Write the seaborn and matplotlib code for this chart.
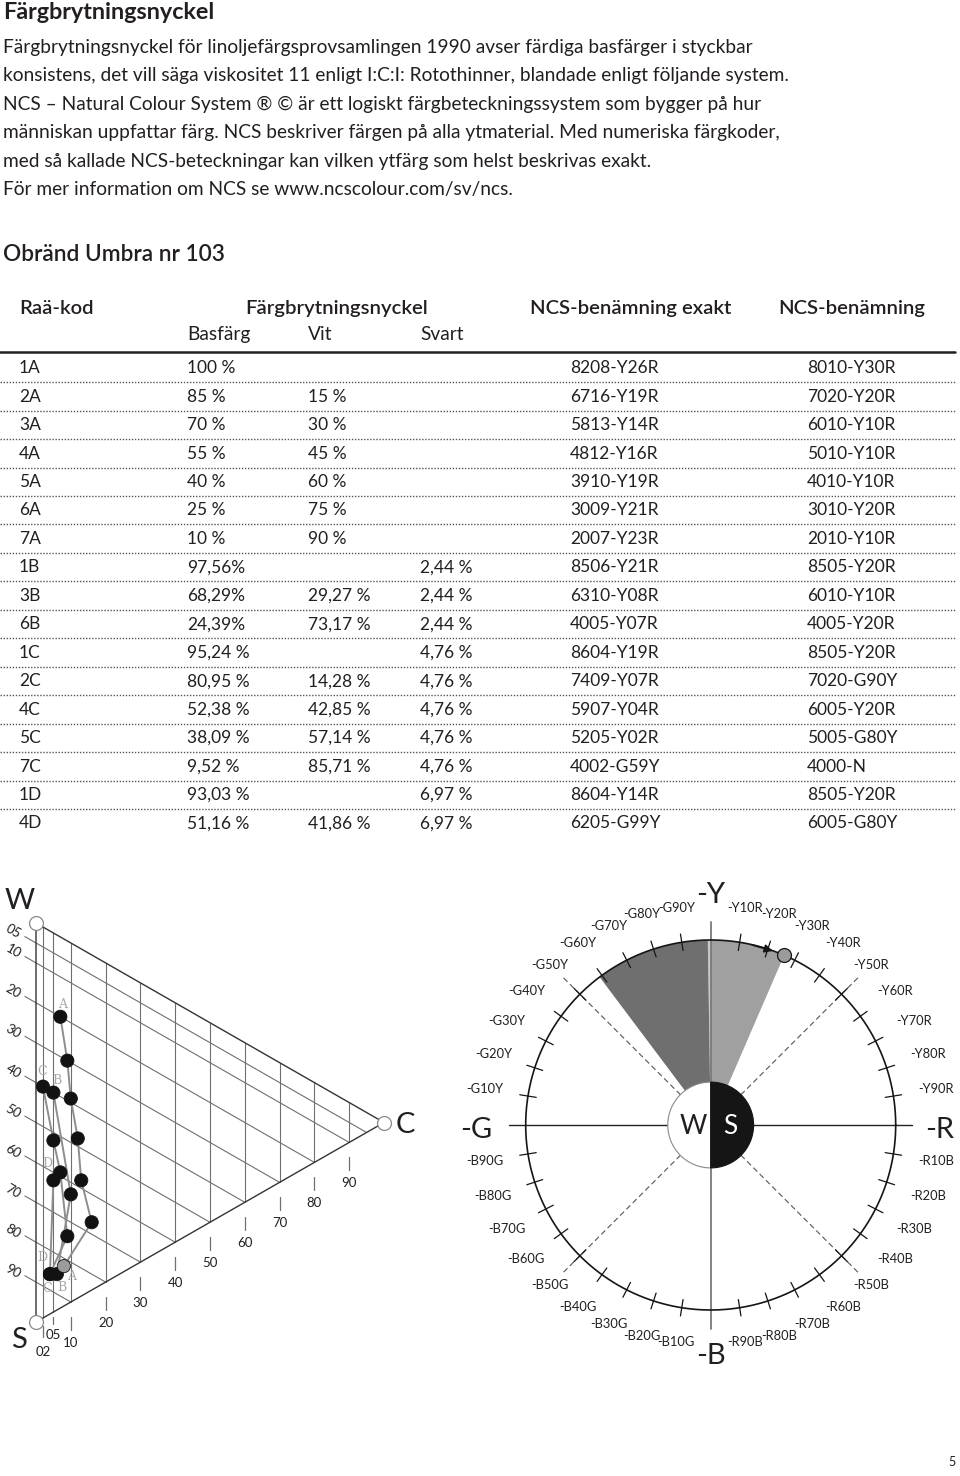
import numpy as np
import pandas as pd
import seaborn as sns
import matplotlib.pyplot as plt
from matplotlib.patches import Wedge

sns.set_style('white')
plt.rcParams['font.family'] = ['Lato', 'DejaVu Sans']

# page text
title = 'Färgbrytningsnyckel'
intro_lines = [
    'Färgbrytningsnyckel för linoljefärgsprovsamlingen 1990 avser färdiga basfärger i styckbar',
    'konsistens, det vill säga viskositet 11 enligt I:C:I: Rotothinner, blandade enligt följande system.',
    'NCS – Natural Colour System ® © är ett logiskt färgbeteckningssystem som bygger på hur',
    'människan uppfattar färg. NCS beskriver färgen på alla ytmaterial. Med numeriska färgkoder,',
    'med så kallade NCS-beteckningar kan vilken ytfärg som helst beskrivas exakt.',
    'För mer information om NCS se www.ncscolour.com/sv/ncs.',
]
subtitle = 'Obränd Umbra nr 103'

# table data
codes = ['1A', '2A', '3A', '4A', '5A', '6A', '7A', '1B', '3B', '6B',
         '1C', '2C', '4C', '5C', '7C', '1D', '4D']
basfarg = ['100 %', '85 %', '70 %', '55 %', '40 %', '25 %', '10 %', '97,56%', '68,29%', '24,39%',
           '95,24 %', '80,95 %', '52,38 %', '38,09 %', '9,52 %', '93,03 %', '51,16 %']
vit = ['', '15 %', '30 %', '45 %', '60 %', '75 %', '90 %', '', '29,27 %', '73,17 %',
       '', '14,28 %', '42,85 %', '57,14 %', '85,71 %', '', '41,86 %']
svart = ['', '', '', '', '', '', '', '2,44 %', '2,44 %', '2,44 %',
         '4,76 %', '4,76 %', '4,76 %', '4,76 %', '4,76 %', '6,97 %', '6,97 %']
ncs_exakt = ['8208-Y26R', '6716-Y19R', '5813-Y14R', '4812-Y16R', '3910-Y19R', '3009-Y21R', '2007-Y23R',
             '8506-Y21R', '6310-Y08R', '4005-Y07R', '8604-Y19R', '7409-Y07R', '5907-Y04R', '5205-Y02R',
             '4002-G59Y', '8604-Y14R', '6205-G99Y']
ncs_nom = ['8010-Y30R', '7020-Y20R', '6010-Y10R', '5010-Y10R', '4010-Y10R', '3010-Y20R', '2010-Y10R',
           '8505-Y20R', '6010-Y10R', '4005-Y20R', '8505-Y20R', '7020-G90Y', '6005-Y20R', '5005-G80Y',
           '4000-N', '8505-Y20R', '6005-G80Y']

# triangle scales
chroma_lines = [2, 5, 10, 20, 30, 40, 50, 60, 70, 80, 90]
chroma_labels = ['02', '05', '10', '20', '30', '40', '50', '60', '70', '80', '90']
black_lines = [5, 10, 20, 30, 40, 50, 60, 70, 80, 90]
black_labels = ['05', '10', '20', '30', '40', '50', '60', '70', '80', '90']

# hue circle
quadrants = [('Y', 'R'), ('R', 'B'), ('B', 'G'), ('G', 'Y')]
hue_steps = [10, 20, 30, 40, 50, 60, 70, 80, 90]

ink = '#231f20'
W, H = 960, 1476
fig = plt.figure(figsize=(W / 100, H / 100), dpi=100)

page = fig.add_axes([0, 0, 1, 1])
page.set_xlim(0, W)
page.set_ylim(H, 0)
page.axis('off')


def put(x, y, s, size, **kw):
    # y is the visual line centre; place on the baseline so mixed lines align
    page.text(x, y + 0.3 * size * 100 / 72, s, fontsize=size, color=ink, va='baseline', **kw)


put(3, 12, title, 16.8, fontweight='bold')
for i, line in enumerate(intro_lines):
    put(3, 47 + i * 28.45, line, 13.8)
put(3, 254, subtitle, 16.3, fontweight='semibold')

# table header
for x, s in zip([19, 245, 530, 778], ['Raä-kod', 'Färgbrytningsnyckel', 'NCS-benämning exakt', 'NCS-benämning']):
    put(x, 308, s, 14.6, fontweight='semibold')
for x, s in zip([187, 308, 420], ['Basfärg', 'Vit', 'Svart']):
    put(x, 334, s, 13.8)
page.plot([0, 955], [352, 352], color=ink, lw=1.8)

col_x = [19, 187, 308, 420, 570, 807]
row_y0, row_h = 368, 28.45
rows = list(zip(codes, basfarg, vit, svart, ncs_exakt, ncs_nom))
for i, row in enumerate(rows):
    y = row_y0 + i * row_h
    for x, s in zip(col_x, row):
        put(x, y, s, 12.5)
    if i < len(rows) - 1:
        page.plot([0, 955], [y + row_h / 2] * 2, color='#555555', lw=1, ls=(0, (1, 1.2)))

page.text(952, 1462, '5', fontsize=9, color=ink, ha='center', va='center')

# ---------- NCS triangle ----------
df = pd.DataFrame({'code': codes, 'ncs': ncs_exakt, 'bas': basfarg})
df['s'] = df['ncs'].str[:2].astype(int)
df['c'] = df['ncs'].str[2:4].astype(int)
df['pos'] = df['s'] + df['c'] / 2
df['series'] = df['code'].str[-1]
df['base'] = df['bas'] == '100 %'

px_x, px_y = 3.48, 3.99          # pixels per NCS unit
tx0, ty0 = 36, 923                # W corner in pixels
lim_lo, lim_hi = -10, 110
tri = fig.add_axes([(tx0 + lim_lo * px_x) / W,
                    1 - (ty0 + lim_hi * px_y) / H,
                    (lim_hi - lim_lo) * px_x / W,
                    (lim_hi - lim_lo) * px_y / H])
tri.patch.set_alpha(0)

grid = '#6f6f6f'
for c in chroma_lines:
    tri.plot([c, c], [c / 2, 100 - c / 2], color=grid, lw=0.8, zorder=1)
for s, lab in zip(black_lines, black_labels):
    tri.plot([-3.2, 100 - s], [s - 1.6, s + (100 - s) / 2], color=grid, lw=0.8, zorder=1)
    tri.text(-6.6, s - 2.8, lab, fontsize=9.5, rotation=-30,
             ha='center', va='center', color=ink)
tri.plot([0, 100, 0, 0], [0, 50, 100, 0], color='#333333', lw=1, zorder=2)

tick_px = {2: (8, 19), 5: (5, 12)}
drop_px = {2: 34, 5: 23}
for c, lab in zip(chroma_lines, chroma_labels):
    edge = 100 - c / 2
    t0, t1 = tick_px.get(c, (15, 28))
    tri.plot([c, c], [edge + t0 / px_y, edge + t1 / px_y], color=grid, lw=0.9)
    tri.text(c, edge + drop_px.get(c, 41) / px_y, lab, fontsize=9.5,
             ha='center', va='center', color=ink)

sns.lineplot(data=df, x='c', y='pos', hue='series', palette=dict.fromkeys('ABCD', '#8e8e8e'),
             sort=False, estimator=None, legend=False, lw=1.4, ax=tri, zorder=3)
sns.scatterplot(data=df.sort_values('base'), x='c', y='pos', hue='base',
                palette={False: '#121212', True: '#9b9b9b'}, s=90, edgecolor='#121212',
                linewidth=0.6, legend=False, ax=tri, zorder=4)

# series letters at first and last sample
label_off = {'A': ((8, 10), (2, -12)), 'B': ((5, 13), (4, -12)),
             'C': ((-3, 14), (-1, -15)), 'D': ((-8, -17), (-6, -17))}
for ser, grp in df.groupby('series'):
    for (_, r), off in zip([next(grp.iterrows()), list(grp.iterrows())[-1]], label_off[ser]):
        tri.annotate(ser, (r['c'], r['pos']), xytext=(off[0], -off[1]), textcoords='offset pixels',
                     fontsize=9, family='DejaVu Serif', color='#a8a8a8', ha='center', va='center')

tri.plot([0, 0, 100], [0, 100, 50], 'o', ms=10, mfc='white', mec='#8a8a8a', mew=0.9, zorder=5)
big = dict(fontsize=21, color=ink, ha='center', va='center')
tri.text(-4.6, -5.6, 'W', **big)
tri.text(-5.0, 104.5, 'S', **big)
tri.text(106.2, 50.6, 'C', **big)

tri.set_xlim(lim_lo, lim_hi)
tri.set_ylim(lim_hi, lim_lo)
tri.axis('off')

# ---------- hue circle ----------
cx, cy, R = 710.7, 1125, 185
span = 1.35
circ = fig.add_axes([(cx - span * R) / W, 1 - (cy + span * R) / H, 2 * span * R / W, 2 * span * R / H])
circ.patch.set_alpha(0)
circ.set_xlim(-span, span)
circ.set_ylim(-span, span)
circ.axis('off')

base_angle = {'Y': 90, 'R': 0, 'B': -90, 'G': 180}


def hue_angle(h):
    return base_angle[h[0]] - 0.9 * int(h[1:3])


hues = [n.split('-')[1] for n in ncs_exakt]
y_ang = [hue_angle(h) for h in hues if h[0] == 'Y']
g_ang = [hue_angle(h) for h in hues if h[0] == 'G']
circ.add_patch(Wedge((0, 0), 1, min(y_ang), 90, fc='#a0a0a0', ec='none', zorder=1))
circ.add_patch(Wedge((0, 0), 1, 90, min(g_ang), fc='#c8c8c8', ec='none', zorder=1))
circ.add_patch(Wedge((0, 0), 1, min(g_ang), max(g_ang), fc='#6f6f6f', ec='none', zorder=1))

th = np.linspace(0, 2 * np.pi, 400)
circ.plot(np.cos(th), np.sin(th), color='#151515', lw=1.2, zorder=3)
circ.plot([0, 0], [-1.1, 1.1], color='#7a7a7a', lw=1.3, zorder=2)
circ.plot([-1.09, 1.09], [0, 0], color='#222222', lw=1, zorder=2)
for a in [45, 135, 225, 315]:
    r = np.array([0.23, 1.14])
    circ.plot(r * np.cos(np.radians(a)), r * np.sin(np.radians(a)), color='#555555',
              lw=0.8, ls=(0, (5, 3)), zorder=2)

# label boxes clear a radius of 211 px: centre pushed out by the half box extent
r_clear, half_w, half_h = 211 / R, 16.5 / R, 6 / R
for a_from, a_to in quadrants:
    for step in hue_steps:
        name = f'{a_from}{step}{a_to}'
        ang = np.radians(hue_angle(name))
        r = np.array([0.955, 1.045])
        circ.plot(r * np.cos(ang), r * np.sin(ang), color='#151515', lw=0.9, zorder=3)
        rl = r_clear + half_w * abs(np.cos(ang)) + half_h * abs(np.sin(ang))
        circ.text(rl * np.cos(ang), rl * np.sin(ang), '-' + name, fontsize=9.3,
                  color=ink, ha='center', va='center')

for lab, (x, y) in {'-Y': (0, 1.245), '-R': (1.24, -0.025), '-B': (0, -1.25), '-G': (-1.27, -0.025)}.items():
    circ.text(x, y, lab, fontsize=21, color=ink, ha='center', va='center')

circ.add_patch(Wedge((0, 0), 0.232, 90, 270, fc='white', ec='#8a8a8a', lw=0.8, zorder=4))
circ.add_patch(Wedge((0, 0), 0.232, -90, 90, fc='#151515', ec='#151515', lw=0.8, zorder=4))
circ.text(-0.095, -0.01, 'W', fontsize=19, color=ink, ha='center', va='center', zorder=5)
circ.text(0.105, -0.01, 'S', fontsize=19, color='white', ha='center', va='center', zorder=5)

mark = np.radians(min(y_ang))
circ.annotate('', xy=(np.cos(np.radians(69.5)), np.sin(np.radians(69.5))),
              xytext=(np.cos(np.radians(78)), np.sin(np.radians(78))),
              arrowprops=dict(arrowstyle='-|>', color='#151515', lw=1.2, mutation_scale=12), zorder=5)
circ.plot(np.cos(mark), np.sin(mark), 'o', ms=10, mfc='#9b9b9b', mec='#151515', mew=0.9, zorder=6)

fig.savefig('out.png', dpi=100, facecolor='white')
